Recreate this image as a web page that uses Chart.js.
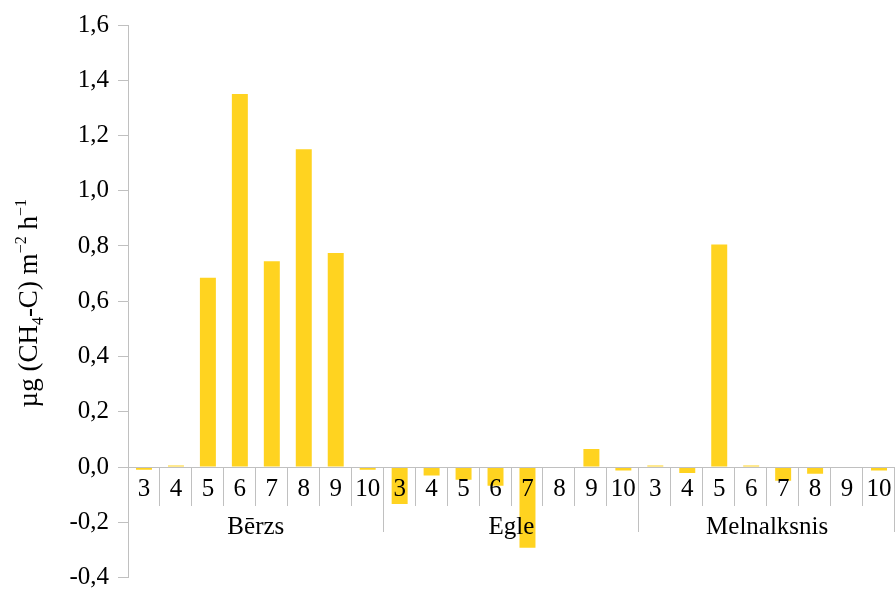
<!DOCTYPE html>
<html>
<head>
<meta charset="utf-8">
<title>CH4 flux</title>
<script src="https://cdn.jsdelivr.net/npm/chart.js@4/dist/chart.umd.min.js"></script>
<style>
  html, body { margin: 0; padding: 0; background: #fff; }
  #wrap { width: 896px; height: 589px; position: relative; }
</style>
</head>
<body>
<div id="wrap"><canvas id="c" width="896" height="589"></canvas></div>
<script>
// Monthly CH4-C flux by stand type
const months = ['3', '4', '5', '6', '7', '8', '9', '10'];
const groups = ['Bērzs', 'Egle', 'Melnalksnis'];
const berzs       = [-0.010, 0.005, 0.685, 1.350, 0.745, 1.150, 0.775, -0.010];
const egle        = [-0.134, -0.031, -0.046, -0.068, -0.292, -0.004, 0.065, -0.013];
const melnalksnis = [0.005, -0.022, 0.805, 0.005, -0.050, -0.024, -0.004, -0.013];
const yMin = -0.4, yMax = 1.6, yStep = 0.2;

const seriesByGroup = [berzs, egle, melnalksnis];
const labels = [];
const values = [];
groups.forEach((g, gi) => {
  months.forEach((m, mi) => {
    labels.push(g + ' ' + m);
    values.push(seriesByGroup[gi][mi]);
  });
});

const SERIF = '"Liberation Serif", "Times New Roman", serif';
const GRID = '#c0c0c0';

// Category axis drawn on the zero line: month labels, boundary ticks, group names
const groupAxis = {
  id: 'groupAxis',
  afterDatasetsDraw(chart) {
    const ctx = chart.ctx;
    const xs = chart.scales.x, ys = chart.scales.y;
    const area = chart.chartArea;
    const y0 = ys.getPixelForValue(0);
    const n = labels.length;
    const per = months.length;
    const boundary = i => {
      if (i <= 0) return area.left;
      if (i >= n) return area.right;
      return (xs.getPixelForValue(i - 1) + xs.getPixelForValue(i)) / 2;
    };
    ctx.save();
    ctx.strokeStyle = GRID;
    ctx.lineWidth = 1;
    // zero line
    ctx.beginPath();
    ctx.moveTo(area.left, Math.round(y0) + 0.5);
    ctx.lineTo(area.right, Math.round(y0) + 0.5);
    ctx.stroke();
    // boundary ticks
    for (let i = 1; i <= n; i++) {
      const bx = Math.round(boundary(i)) - 0.5;
      const long = (i % per === 0);
      ctx.beginPath();
      ctx.moveTo(bx, y0);
      ctx.lineTo(bx, y0 + (long ? 65 : 39));
      ctx.stroke();
    }
    // month labels
    ctx.fillStyle = '#000';
    ctx.font = '25px ' + SERIF;
    ctx.textAlign = 'center';
    ctx.textBaseline = 'alphabetic';
    for (let i = 0; i < n; i++) {
      ctx.fillText(months[i % per], xs.getPixelForValue(i), y0 + 29);
    }
    // group labels
    groups.forEach((g, gi) => {
      const cx = (boundary(gi * per) + boundary((gi + 1) * per)) / 2;
      ctx.fillText(g, cx, y0 + 67);
    });
    ctx.restore();
  }
};

// Rotated y-axis title with subscript and superscripts
const yTitle = {
  id: 'yTitle',
  afterDraw(chart) {
    const ctx = chart.ctx;
    const area = chart.chartArea;
    const size = 27;
    const small = Math.round(size * 0.6);
    const parts = [
      { t: 'µg (CH', s: 0 },
      { t: '4', s: 1 },
      { t: '-C) m', s: 0 },
      { t: '−2', s: -1 },
      { t: ' h', s: 0 },
      { t: '−1', s: -1 }
    ];
    ctx.save();
    const widths = parts.map(p => {
      ctx.font = (p.s ? small : size) + 'px ' + SERIF;
      return ctx.measureText(p.t).width;
    });
    const total = widths.reduce((a, b) => a + b, 0);
    ctx.translate(37, (area.top + area.bottom) / 2 + 2);
    ctx.rotate(-Math.PI / 2);
    ctx.fillStyle = '#000';
    ctx.textBaseline = 'alphabetic';
    ctx.textAlign = 'left';
    let x = -total / 2;
    parts.forEach((p, i) => {
      ctx.font = (p.s ? small : size) + 'px ' + SERIF;
      const dy = p.s === 1 ? 6 : (p.s === -1 ? -11 : 0);
      ctx.fillText(p.t, x, dy);
      x += widths[i];
    });
    ctx.restore();
  }
};

new Chart(document.getElementById('c'), {
  type: 'bar',
  data: {
    labels: labels,
    datasets: [{
      data: values,
      backgroundColor: '#ffd320',
      borderWidth: 0,
      categoryPercentage: 1.0,
      barPercentage: 0.5
    }]
  },
  options: {
    responsive: false,
    animation: false,
    layout: { padding: { top: 25, right: 1, bottom: 8, left: 0 } },
    plugins: { legend: { display: false }, tooltip: { enabled: false } },
    scales: {
      x: {
        display: false,
        offset: true
      },
      y: {
        min: yMin,
        max: yMax,
        afterFit(scale) { scale.width = 128; },
        border: { color: GRID, width: 1 },
        grid: { drawOnChartArea: false, tickLength: 10, color: GRID },
        ticks: {
          stepSize: yStep,
          padding: 9,
          color: '#000',
          font: { family: SERIF, size: 25, lineHeight: 0.2 },
          callback: v => (Math.abs(v) < 1e-9 ? 0 : v).toFixed(1).replace('.', ',')
        }
      }
    }
  },
  plugins: [groupAxis, yTitle]
});
</script>
</body>
</html>
